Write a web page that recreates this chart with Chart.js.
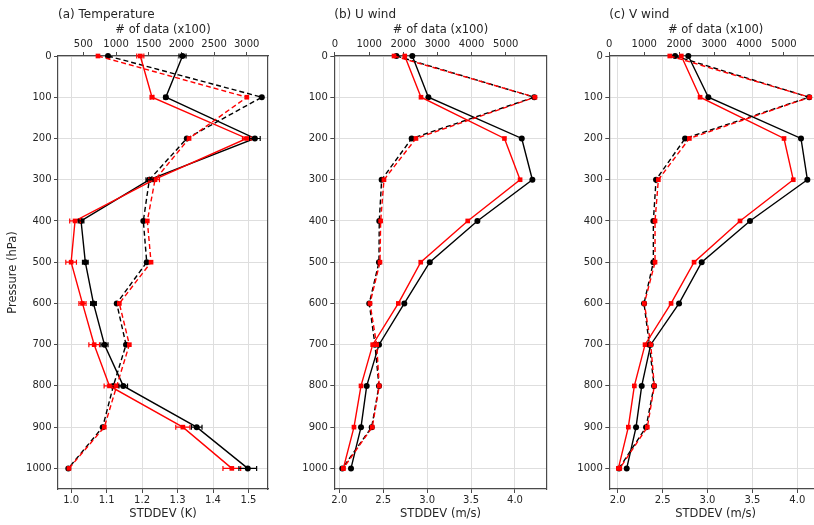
<!DOCTYPE html>
<html>
<head>
<meta charset="utf-8">
<script src="https://cdn.jsdelivr.net/npm/chart.js@4.4.0/dist/chart.umd.min.js"></script>
<style>
  html, body { margin: 0; padding: 0; background: #fff; overflow: hidden; }
  body { width: 814px; height: 525px; position: relative; font-family: "DejaVu Sans", sans-serif; }
  canvas { position: absolute; top: 0; }
</style>
</head>
<body>
<canvas id="chartT" width="280" height="525" style="left:0"></canvas>
<canvas id="chartU" width="280" height="525" style="left:280px"></canvas>
<canvas id="chartV" width="290" height="525" style="left:545px"></canvas>
<script>
// Pressure levels (hPa)
const levels = [0, 100, 200, 300, 400, 500, 600, 700, 800, 900, 1000];

// (a) Temperature
const tStdBlack = [1.314, 1.267, 1.518, 1.221, 1.028, 1.040, 1.063, 1.094, 1.147, 1.354, 1.498];
const tStdRed   = [1.195, 1.228, 1.495, 1.234, 1.011, 1.000, 1.032, 1.065, 1.108, 1.315, 1.453];
const tErrBlack = [0.010, 0.005, 0.015, 0.010, 0.008, 0.008, 0.008, 0.010, 0.012, 0.015, 0.025];
const tErrRed   = [0.010, 0.005, 0.012, 0.015, 0.015, 0.015, 0.010, 0.015, 0.015, 0.020, 0.025];
const tCntBlack = [877, 3231, 2083, 1510, 1418, 1470, 1011, 1153, 959, 796, 270];
const tCntRed   = [724, 3002, 2118, 1597, 1479, 1536, 1051, 1204, 1011, 821, 280];

// (b) U wind
const uStdBlack = [2.831, 3.014, 4.077, 4.198, 3.572, 3.030, 2.740, 2.452, 2.312, 2.247, 2.133];
const uStdRed   = [2.745, 2.930, 3.880, 4.058, 3.462, 2.927, 2.672, 2.380, 2.247, 2.167, 2.046];
const uCntBlack = [1800, 5836, 2246, 1367, 1297, 1288, 1004, 1171, 1288, 1075, 214];
const uCntRed   = [1730, 5857, 2372, 1435, 1338, 1318, 1025, 1221, 1297, 1092, 243];

// (c) V wind
const vStdBlack = [2.786, 3.009, 4.041, 4.112, 3.473, 2.935, 2.683, 2.367, 2.267, 2.204, 2.100];
const vStdRed   = [2.708, 2.917, 3.852, 3.955, 3.362, 2.850, 2.594, 2.304, 2.185, 2.118, 2.007];
const vCntBlack = [1883, 5722, 2169, 1338, 1261, 1261, 994, 1146, 1281, 1052, 280];
const vCntRed   = [1731, 5736, 2292, 1404, 1309, 1309, 1003, 1186, 1289, 1089, 300];

// Tick labels
const pressureTicks = [0, 100, 200, 300, 400, 500, 600, 700, 800, 900, 1000];
const tStdTicks = [1.0, 1.1, 1.2, 1.3, 1.4, 1.5];
const tCntTicks = [500, 1000, 1500, 2000, 2500, 3000];
const windStdTicks = [2.0, 2.5, 3.0, 3.5, 4.0];
const windCntTicks = [0, 1000, 2000, 3000, 4000, 5000];

const FONT = '"DejaVu Sans", sans-serif';
const TEXT = '#262626';
const SPINE = '#4a4a4a';

// Draw horizontal error bars with caps using the chart's own scales
const errorBars = {
  id: 'errorBars',
  afterDatasetsDraw(chart) {
    const ctx = chart.ctx;
    chart.data.datasets.forEach((ds, i) => {
      if (!ds.errors) return;
      const xs = chart.scales[ds.xAxisID];
      const ys = chart.scales.y;
      ctx.save();
      ctx.strokeStyle = ds.borderColor;
      ctx.lineWidth = 1.2;
      ds.data.forEach((p, j) => {
        const e = ds.errors[j];
        const x0 = xs.getPixelForValue(p.x - e);
        const x1 = xs.getPixelForValue(p.x + e);
        const y = ys.getPixelForValue(p.y);
        ctx.beginPath();
        ctx.moveTo(x0, y); ctx.lineTo(x1, y);
        ctx.moveTo(x0, y - 2.5); ctx.lineTo(x0, y + 2.5);
        ctx.moveTo(x1, y - 2.5); ctx.lineTo(x1, y + 2.5);
        ctx.stroke();
      });
      ctx.restore();
    });
  }
};

function toPoints(values) {
  return values.map((v, i) => ({ x: v, y: levels[i] }));
}

function series(values, color, style, axis, dashed, errors) {
  return {
    data: toPoints(values),
    xAxisID: axis,
    borderColor: color,
    backgroundColor: color,
    borderWidth: 1.4,
    borderDash: dashed ? [5, 3] : [],
    pointStyle: style,
    pointRadius: style === 'rect' ? 3.3 : 3,
    pointBorderWidth: 0,
    showLine: true,
    clip: false,
    errors: errors
  };
}

function makePanel(id, p) {
  new Chart(document.getElementById(id), {
    type: 'scatter',
    data: {
      // first dataset ends up drawn on top
      datasets: [
        series(p.cntRed, '#ff0000', 'rect', 'x2', true),
        series(p.stdRed, '#ff0000', 'rect', 'x', false, p.errRed),
        series(p.cntBlack, '#000000', 'circle', 'x2', true),
        series(p.stdBlack, '#000000', 'circle', 'x', false, p.errBlack)
      ]
    },
    options: {
      responsive: false,
      animation: false,
      layout: { padding: { left: 0, right: p.padRight, top: 0, bottom: 0 } },
      plugins: {
        legend: { display: false },
        tooltip: { enabled: false },
        title: {
          display: true,
          text: p.title,
          align: 'start',
          fullSize: false,
          color: TEXT,
          font: { family: FONT, size: 12, weight: 'normal' },
          padding: { top: 8, bottom: 0 }
        }
      },
      scales: {
        x: {
          type: 'linear',
          position: 'bottom',
          min: p.stdMin,
          max: p.stdMax,
          afterBuildTicks: s => { s.ticks = p.stdTicks.map(v => ({ value: v })); },
          afterFit: s => { s.height = 36; },
          ticks: { color: TEXT, font: { family: FONT, size: 10 }, padding: 1.5, maxRotation: 0, callback: v => v.toFixed(1) },
          grid: { color: '#dedede', lineWidth: 1, tickLength: 4, tickColor: SPINE },
          border: { color: SPINE, width: 1.2 },
          title: { display: true, text: p.stdLabel, color: TEXT, font: { family: FONT, size: 11.5 }, padding: { top: 0, bottom: 3.6 } }
        },
        x2: {
          type: 'linear',
          position: 'top',
          min: p.cntMin,
          max: p.cntMax,
          afterBuildTicks: s => { s.ticks = p.cntTicks.map(v => ({ value: v })); },
          afterFit: s => { s.height = 33.6; },
          ticks: { color: TEXT, font: { family: FONT, size: 10 }, padding: 2, maxRotation: 0, callback: v => String(v) },
          grid: { drawOnChartArea: false, tickLength: 4, tickColor: SPINE },
          border: { color: SPINE, width: 1.2 },
          title: { display: true, text: '# of data (x100)', color: TEXT, font: { family: FONT, size: 11.5 }, padding: { top: 1.2, bottom: 0 } }
        },
        y: {
          type: 'linear',
          position: 'left',
          reverse: true,
          min: 0,
          max: 1050,
          afterBuildTicks: s => { s.ticks = pressureTicks.map(v => ({ value: v })); },
          afterFit: s => { s.width = p.yWidth; },
          ticks: { color: TEXT, font: { family: FONT, size: 10 }, padding: 2.5, callback: v => String(v) },
          grid: { color: '#dedede', lineWidth: 1, tickLength: 4, tickColor: SPINE },
          border: { color: SPINE, width: 1.2 },
          title: { display: !!p.yTitle, text: p.yTitle || '', color: TEXT, font: { family: FONT, size: 11.5 }, padding: { top: 6.4, bottom: 0 } }
        },
        y2: {
          type: 'linear',
          position: 'right',
          reverse: true,
          min: 0,
          max: 1050,
          afterFit: s => { s.width = 0; },
          ticks: { display: false },
          grid: { drawOnChartArea: false, drawTicks: false },
          border: { color: SPINE, width: 1.2 }
        }
      }
    },
    plugins: [errorBars]
  });
}

makePanel('chartT', {
  title: '(a) Temperature', stdLabel: 'STDDEV (K)', yTitle: 'Pressure (hPa)',
  stdBlack: tStdBlack, stdRed: tStdRed, errBlack: tErrBlack, errRed: tErrRed,
  cntBlack: tCntBlack, cntRed: tCntRed,
  stdMin: 0.963, stdMax: 1.555, stdTicks: tStdTicks,
  cntMin: 112, cntMax: 3326, cntTicks: tCntTicks,
  yWidth: 58, padRight: 12
});

makePanel('chartU', {
  title: '(b) U wind', stdLabel: 'STDDEV (m/s)',
  stdBlack: uStdBlack, stdRed: uStdRed,
  cntBlack: uCntBlack, cntRed: uCntRed,
  stdMin: 1.943, stdMax: 4.361, stdTicks: windStdTicks,
  cntMin: -20, cntMax: 6201, cntTicks: windCntTicks,
  yWidth: 54.3, padRight: 13.3
});

makePanel('chartV', {
  title: '(c) V wind', stdLabel: 'STDDEV (m/s)',
  stdBlack: vStdBlack, stdRed: vStdRed,
  cntBlack: vCntBlack, cntRed: vCntRed,
  stdMin: 1.906, stdMax: 4.275, stdTicks: windStdTicks,
  cntMin: 0, cntMax: 6088, cntTicks: windCntTicks,
  yWidth: 64.3, padRight: 13
});
</script>
</body>
</html>
